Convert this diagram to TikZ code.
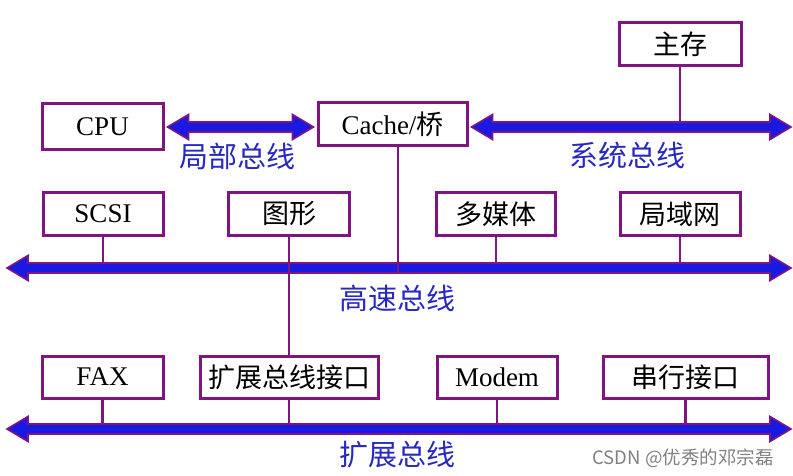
\documentclass[tikz,border=0pt]{standalone}
\usepackage{fontspec}
\setmainfont{Liberation Serif}
\newfontfamily\cjk{Noto Sans CJK SC}
\usetikzlibrary{calc}
\definecolor{busblue}{RGB}{25,25,225}
\definecolor{purp}{RGB}{128,20,128}
\definecolor{lblblue}{RGB}{40,40,190}
\tikzset{
  box/.style={draw=purp, line width=3pt, fill=white, minimum height=43pt, inner sep=0pt, font=\fontsize{27}{30}\selectfont},
  conn/.style={draw=purp, line width=2.5pt},
  busstyle/.style={draw=purp, fill=busblue, line width=1.6pt, line join=miter},
  buslabel/.style={text=lblblue, font=\cjk\fontsize{29}{32}\selectfont, inner sep=0pt}
}
\newcommand\busarrow[2]{%
  \draw[busstyle] let \p1=(#1), \p2=(#2) in
  (\x1,\y1) -- (\x1+21pt,\y1+12.5pt) -- (\x1+21pt,\y1+5pt) -- (\x2-21pt,\y1+5pt) -- (\x2-21pt,\y1+12.5pt) -- (\x2,\y1)
  -- (\x2-21pt,\y1-12.5pt) -- (\x2-21pt,\y1-5pt) -- (\x1+21pt,\y1-5pt) -- (\x1+21pt,\y1-12.5pt) -- cycle;}
\begin{document}
\begin{tikzpicture}[x=1pt,y=-1pt]
\useasboundingbox (0,0) rectangle (793,476);
% boxes
\node[box, minimum width=122pt] (mem) at (680,44) {\cjk 主存};
\node[box, minimum width=121pt, minimum height=46pt] (cpu) at (102.5,127) {CPU};
\node[box, minimum width=149pt] (cache) at (392.5,124.5) {Cache/{\cjk 桥}};
\node[box, minimum width=120pt] (scsi) at (103,214) {SCSI};
\node[box, minimum width=121pt] (graph) at (289,214) {\cjk 图形};
\node[box, minimum width=119pt] (mm) at (496,214) {\cjk 多媒体};
\node[box, minimum width=120pt] (lan) at (680,214) {\cjk 局域网};
\node[box, minimum width=121pt, minimum height=42pt] (fax) at (102.5,377) {FAX};
\node[box, minimum width=178pt, minimum height=42pt] (ext) at (289,377) {\cjk 扩展总线接口};
\node[box, minimum width=120pt, minimum height=42pt] (modem) at (497,377) {Modem};
\node[box, minimum width=165pt, minimum height=42pt] (serial) at (685.5,377) {\cjk 串行接口};
% bus end points
\coordinate (locL) at ($(cpu.east)+(3,0)$);
\coordinate (locR) at ($(cache.west |- cpu.east)+(-3,0)$);
\coordinate (sysL) at ($(cache.east |- cpu.east)+(3,0)$);
\coordinate (sysR) at (791,127);
\coordinate (hsL) at (7,268);
\coordinate (hsR) at (791,268);
\coordinate (exL) at (7,429);
\coordinate (exR) at (791,429);
\coordinate (cachedrop) at (398,272);
% connectors
\draw[conn] (mem.south) -- (mem.south |- sysR);
\draw[conn] (scsi.south) -- (scsi.south |- hsR);
\draw[conn] (mm.south) -- (mm.south |- hsR);
\draw[conn] (lan.south) -- (lan.south |- hsR);
\draw[conn] (fax.south) -- (fax.south |- exR);
\draw[conn] (ext.south) -- (ext.south |- exR);
\draw[conn] (modem.south) -- (modem.south |- exR);
\draw[conn] (serial.south) -- (serial.south |- exR);
% buses
\busarrow{locL}{locR}
\busarrow{sysL}{sysR}
\busarrow{hsL}{hsR}
\busarrow{exL}{exR}
% connectors crossing the high-speed bus
\draw[conn] (cache.south -| cachedrop) -- (cachedrop);
\draw[conn] (graph.south) -- (ext.north);
% labels
\node[buslabel] (lbl1) at (237,156) {局部总线};
\node[buslabel] (lbl2) at (627,155) {系统总线};
\node[buslabel] (lbl3) at (397,298) {高速总线};
\node[buslabel] (lbl4) at (397,455) {扩展总线};
\node[text=black!50, font=\cjk\fontsize{18.5}{21}\selectfont, inner sep=0pt] (wm) at (683,458) {CSDN @优秀的邓宗磊};
\end{tikzpicture}
\end{document}
